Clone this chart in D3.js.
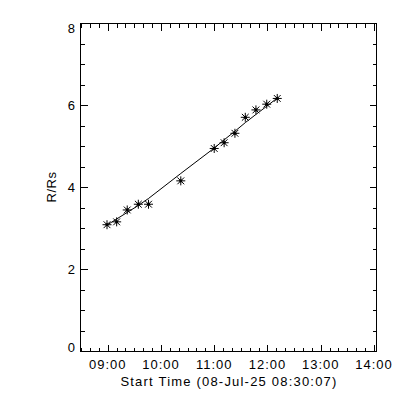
<!DOCTYPE html>
<html><head><meta charset="utf-8">
<script src="https://cdn.jsdelivr.net/npm/d3@7"></script>
<style>body{margin:0;background:#fff}svg{display:block}text{font-family:"Liberation Sans",Arial,sans-serif;fill:#000}</style>
</head><body><svg id="c" width="400" height="400"></svg>
<script>
const day = "2025-07-08";
const xStart = "08:28:48", xEnd = "14:02:15";
const pointTimes = ["08:59:13","09:10:06","09:22:00","09:34:30","09:46:00","10:22:20","11:00:00","11:11:10","11:23:20","11:35:00","11:47:00","11:59:10","12:11:00"];
const pointValues = [3.08,3.15,3.44,3.58,3.58,4.15,4.94,5.08,5.31,5.70,5.88,6.02,6.16];
const fitValues = [3.07,3.22,3.38,3.55,3.72,4.33,4.95,5.15,5.36,5.57,5.77,5.97,6.17];
const xTickLabels = ["09:00","10:00","11:00","12:00","13:00","14:00"];
const yTicks = [0,2,4,6,8];
const xTitle = "Start Time (08-Jul-25 08:30:07)";
const yTitle = "R/Rs";

const parse = s => new Date(day + "T" + s + "Z");
const L = 80, R = 376, T = 23, B = 351;
const svg = d3.select("#c");
const x = d3.scaleUtc().domain([parse(xStart), parse(xEnd)]).range([L, R]);
const y = d3.scaleLinear().domain([0, 8]).range([B, T]);

const g = svg.append("g");
g.append("rect").attr("x", L+0.5).attr("y", T+0.5).attr("width", R-L).attr("height", B-T)
  .attr("fill","none").attr("stroke","#000").attr("shape-rendering","crispEdges");

const minorX = d3.utcMinute.every(10).range(parse(xStart), parse(xEnd));
const majorX = xTickLabels.map(parse);
const tk = (x1,y1,x2,y2) => g.append("line").attr("x1",x1).attr("y1",y1).attr("x2",x2).attr("y2",y2)
  .attr("stroke","#000").attr("shape-rendering","crispEdges");
minorX.forEach(d => {
  const px = Math.round(x(d)) + 0.5;
  const isMajor = d.getUTCMinutes() === 0;
  const len = isMajor ? 7 : 4;
  tk(px, B+0.5, px, B+0.5-len);
  tk(px, T+0.5, px, T+0.5+len);
});
d3.range(0, 8.01, 0.5).forEach(v => {
  const py = Math.round(y(v)) + 0.5;
  const len = (v % 2 === 0) ? 7 : 4;
  tk(L+0.5, py, L+0.5+len, py);
  tk(R+0.5, py, R+0.5-len, py);
});

majorX.forEach((d,i) => {
  g.append("text").attr("x", x(d)).attr("y", 369).attr("text-anchor","middle")
    .attr("font-size", 13).attr("letter-spacing", 1).text(xTickLabels[i]);
});
yTicks.forEach(v => {
  let cy = y(v);
  if (v === 0) cy = B - 4;
  if (v === 8) cy = T + 5;
  g.append("text").attr("x", 75).attr("y", cy).attr("dy","0.35em").attr("text-anchor","end")
    .attr("font-size", 13).text(v);
});
g.append("text").attr("x", 229).attr("y", 386).attr("text-anchor","middle")
  .attr("font-size", 13).attr("letter-spacing", 1.2).text(xTitle);
g.append("text").attr("transform", `translate(56,${(T+B)/2}) rotate(-90)`).attr("text-anchor","middle")
  .attr("font-size", 13).attr("letter-spacing", 0.5).text(yTitle);

const pts = pointTimes.map((t,i) => ({t: parse(t), v: pointValues[i], f: fitValues[i]}));
g.append("path").datum(pts).attr("fill","none").attr("stroke","#000").attr("stroke-width",1)
  .attr("d", d3.line().x(d => x(d.t)).y(d => y(d.f)));

const s = 4.5, sd = 3.4;
const star = g.selectAll(".star").data(pts).join("g").attr("class","star")
  .attr("transform", d => `translate(${x(d.t)},${y(d.v)})`);
star.append("path").attr("stroke","#000").attr("stroke-width",1).attr("fill","none")
  .attr("d", `M${-s},0H${s}M0,${-s}V${s}M${-sd},${-sd}L${sd},${sd}M${-sd},${sd}L${sd},${-sd}`);
star.append("circle").attr("r", 1.6).attr("fill","#000");
</script></body></html>
